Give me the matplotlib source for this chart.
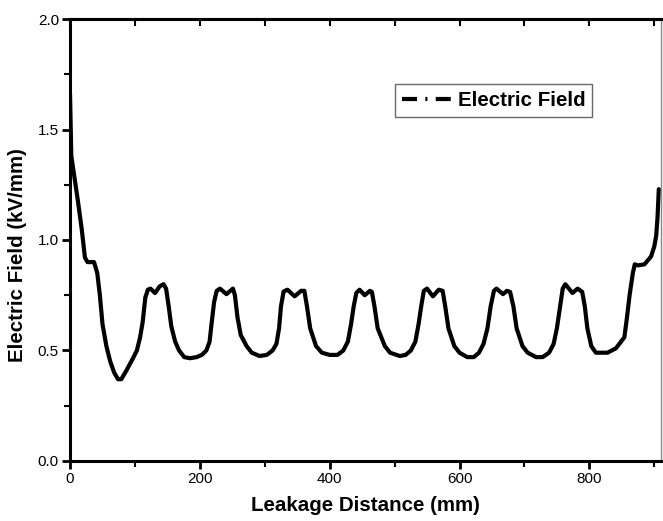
import numpy as np
import matplotlib.pyplot as plt
from matplotlib.lines import Line2D

plt.rcParams['font.family'] = ['Liberation Sans', 'DejaVu Sans']

# leakage distance (mm) and field (kV/mm)
dist = [0, 2, 6, 12, 18, 23, 27, 37, 42, 46, 50, 56, 62, 68, 74, 79, 87, 97,
        103, 108, 112, 116, 120, 124, 131, 138, 144, 148, 152, 156, 162, 168,
        176, 185, 195, 203, 210,
        215, 218, 222, 226, 231, 241, 251, 254, 258, 263, 272, 280, 292, 303,
        312, 318, 322, 325, 329, 335, 346, 356, 361, 365, 370, 379, 388, 400,
        412, 421, 428, 433, 437, 441, 446, 454, 462, 465, 469, 474, 485, 493,
        508, 517, 525, 532, 537, 541, 545, 550, 559, 568, 574, 578, 583, 592,
        600, 612, 622, 630, 637, 643, 648, 653, 657, 667, 673, 678, 683, 688,
        697, 705, 718, 728, 738, 745, 750, 755, 759, 763, 774, 782, 789, 793,
        797, 803, 810, 828, 841, 854, 858, 862, 867, 870, 875, 885, 895, 900,
        903, 905, 907]
field = [1.66, 1.38, 1.30, 1.18, 1.05, 0.92, 0.90, 0.90, 0.85, 0.75, 0.62,
         0.52, 0.45, 0.40, 0.37, 0.37, 0.41, 0.465, 0.50, 0.56, 0.63, 0.74,
         0.775, 0.78, 0.76, 0.79, 0.80, 0.78, 0.70, 0.61, 0.54, 0.50, 0.47,
         0.465, 0.47, 0.48, 0.50,
         0.54, 0.62, 0.72, 0.77, 0.78, 0.755, 0.78, 0.75, 0.65, 0.57, 0.52,
         0.49, 0.475, 0.48, 0.50, 0.53, 0.60, 0.70, 0.767, 0.775, 0.745, 0.77,
         0.77, 0.70, 0.60, 0.52, 0.49, 0.48, 0.48, 0.50, 0.54, 0.62, 0.70,
         0.76, 0.775, 0.75, 0.77, 0.765, 0.70, 0.60, 0.52, 0.49, 0.475, 0.48,
         0.50, 0.54, 0.62, 0.70, 0.77, 0.78, 0.745, 0.775, 0.77, 0.70, 0.60,
         0.52, 0.49, 0.47, 0.47, 0.49, 0.53, 0.60, 0.70, 0.77, 0.78, 0.755,
         0.77, 0.765, 0.70, 0.60, 0.52, 0.49, 0.47, 0.47, 0.49, 0.53, 0.60,
         0.70, 0.78, 0.80, 0.76, 0.78, 0.765, 0.70, 0.60, 0.52, 0.49, 0.49,
         0.51, 0.56, 0.65, 0.75, 0.85, 0.89, 0.885, 0.89, 0.925, 0.97, 1.02,
         1.10, 1.23]

fig = plt.figure(figsize=(6.63, 5.21), dpi=100)
ax = fig.add_axes([0.1056, 0.1152, 0.891, 0.8483])

ax.plot(dist, field, color='black', lw=3, solid_joinstyle='round',
        solid_capstyle='round')

ax.set_xlim(0, 910)
ax.set_ylim(0, 2.0)
ax.set_xticks([0, 200, 400, 600, 800])
ax.set_xticks([100, 300, 500, 700, 900], minor=True)
ax.set_yticks([0.0, 0.5, 1.0, 1.5, 2.0])
ax.set_yticks([0.25, 0.75, 1.25, 1.75], minor=True)
ax.set_yticklabels(['0.0', '0.5', '1.0', '1.5', '2.0'])

ax.tick_params(which='major', direction='out', length=6, width=2,
               labelsize=11, pad=2)
ax.tick_params(which='minor', direction='out', length=4, width=1.5)

for s in ['left', 'bottom', 'top']:
    ax.spines[s].set_linewidth(2.2)
ax.spines['right'].set_linewidth(1)
ax.spines['right'].set_color('#888888')

top = ax.secondary_xaxis('top')
top.set_xticks([0, 200, 400, 600, 800])
top.set_xticks([100, 300, 500, 700, 900], minor=True)
top.tick_params(which='both', direction='in', length=5, width=1.5,
                labeltop=False)
top.spines['top'].set_linewidth(2.2)

ax.set_xlabel('Leakage Distance (mm)', fontsize=14.8, fontweight='bold',
              labelpad=7)
ax.set_ylabel('Electric Field (kV/mm)', fontsize=14.8, fontweight='bold')
ax.yaxis.set_label_coords(-0.072, 0.467)

handle = Line2D([], [], color='black', lw=3, linestyle=(0, (3.6, 2, 0.5, 2)))
leg = ax.legend([handle], ['Electric Field'], loc='upper left',
                bbox_to_anchor=(0.55, 0.853), borderaxespad=0,
                fancybox=False, handlelength=2.4, handletextpad=0.3,
                borderpad=0.35, prop={'size': 14.8, 'weight': 'bold'})
leg.get_frame().set_edgecolor('#444444')
leg.get_frame().set_linewidth(1)

fig.savefig('out.png', dpi=100)
